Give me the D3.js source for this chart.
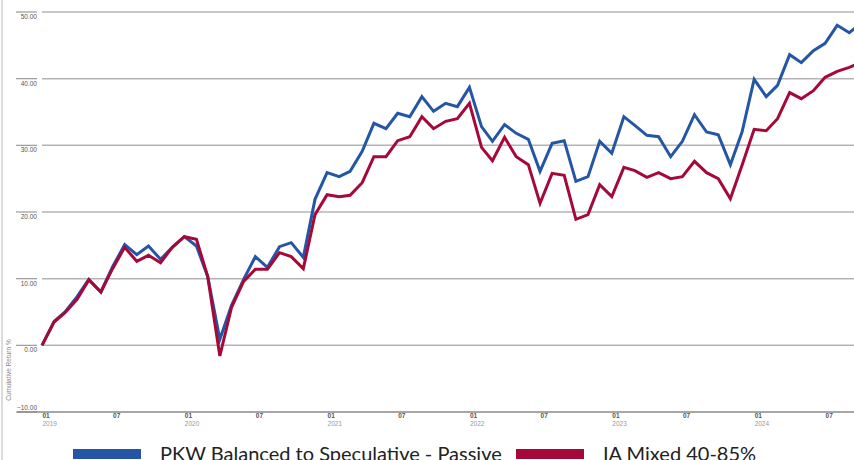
<!DOCTYPE html>
<html>
<head>
<meta charset="utf-8">
<script src="https://cdn.jsdelivr.net/npm/d3@7"></script>
<style>
  body { margin: 0; background: #fff; }
  svg { display: block; }
</style>
</head>
<body>
<div id="chart"></div>
<script>
const seriesNames = ["PKW Balanced to Speculative - Passive", "IA Mixed 40-85%"];
const seriesColors = ["#2456a5", "#a5093a"];

// monthly points, Jan 2019 onwards
const pkwValues = [
  0, 3.6, 5.0, 7.3, 9.9, 8.0, 11.8, 15.1, 13.6, 14.9, 12.9, 14.7,
  16.3, 14.9, 10.3, 0.9, 6.0, 9.9, 13.3, 11.7, 14.8, 15.4, 13.2, 21.9,
  25.9, 25.3, 26.1, 29.1, 33.3, 32.5, 34.8, 34.3, 37.3, 35.1, 36.3, 35.8,
  38.7, 32.8, 30.6, 33.1, 31.8, 30.9, 26.1, 30.3, 30.7, 24.6, 25.3, 30.6,
  28.8, 34.3, 33.0, 31.5, 31.3, 28.3, 30.6, 34.6, 32.0, 31.6, 27.1, 32.0,
  39.9, 37.3, 39.0, 43.6, 42.4, 44.2, 45.3, 48.0, 46.9, 48.3
];
const iaValues = [
  0, 3.5, 4.9, 6.9, 9.8, 8.0, 11.5, 14.7, 12.6, 13.5, 12.4, 14.7,
  16.3, 15.9, 10.3, -1.6, 5.7, 9.6, 11.4, 11.4, 13.9, 13.3, 11.5, 19.6,
  22.6, 22.3, 22.5, 24.4, 28.3, 28.3, 30.7, 31.3, 34.3, 32.5, 33.6, 34.0,
  36.3, 29.7, 27.7, 31.2, 28.3, 27.1, 21.3, 25.8, 25.5, 18.9, 19.6, 24.1,
  22.3, 26.7, 26.2, 25.2, 25.9, 25.0, 25.3, 27.6, 25.9, 25.0, 22.0, 27.0,
  32.4, 32.2, 34.0, 37.9, 37.0, 38.2, 40.2, 41.1, 41.7, 42.4
];
const yTicks = [-10, 0, 10, 20, 30, 40, 50];
const yTitle = "Cumulative Return %";

const width = 854, height = 460;

const months = d3.timeMonth.range(new Date(2019, 0, 1), new Date(2024, 10, 1));

const x = d3.scaleTime()
  .domain([months[0], months[months.length - 1]])
  .range([42, 861]);

const y = d3.scaleLinear()
  .domain([-10, 50])
  .range([412, 12]);

const svg = d3.select("#chart")
  .append("svg")
  .attr("width", width)
  .attr("height", height);

// left border
svg.append("line")
  .attr("x1", 2).attr("x2", 2)
  .attr("y1", 0).attr("y2", height)
  .attr("stroke", "#dcdcdc")
  .attr("stroke-width", 2);

// gridlines
svg.append("g")
  .selectAll("line")
  .data(yTicks.filter((d) => d > -10))
  .enter()
  .append("line")
  .attr("x1", 42).attr("x2", width)
  .attr("y1", (d) => y(d)).attr("y2", (d) => y(d))
  .attr("stroke", "#b4b4b4")
  .attr("stroke-width", 1.5);

// short marks left of the plot
svg.append("g")
  .selectAll("line")
  .data(yTicks)
  .enter()
  .append("line")
  .attr("x1", 16).attr("x2", 37)
  .attr("y1", (d) => y(d)).attr("y2", (d) => y(d))
  .attr("stroke", "#9a9a9a")
  .attr("stroke-width", 1.2);

svg.append("g")
  .selectAll("text")
  .data(yTicks)
  .enter()
  .append("text")
  .attr("x", 37)
  .attr("y", (d) => (d === -10 ? y(d) - 2 : y(d) + 7))
  .attr("text-anchor", "end")
  .style("font-family", "'Liberation Sans Narrow', 'Liberation Sans', sans-serif")
  .style("font-size", "6.5px")
  .style("fill", "#555")
  .text((d) => d3.format(".2f")(d).replace("-", "\u2212 "));

// y title
svg.append("text")
  .attr("transform", "translate(11, 370) rotate(-90)")
  .attr("text-anchor", "middle")
  .style("font-family", "'Liberation Sans Narrow', 'Liberation Sans', sans-serif")
  .style("font-size", "6.5px")
  .style("fill", "#888")
  .text(yTitle);

// x axis
const xAxis = d3.axisBottom(x)
  .ticks(d3.timeMonth.every(6))
  .tickSize(0)
  .tickFormat(d3.timeFormat("%m"));

const xAxisGroup = svg.append("g")
  .attr("transform", `translate(0, ${y(-10)})`)
  .call(xAxis);

xAxisGroup.select(".domain").remove();
xAxisGroup.selectAll(".tick text")
  .attr("y", 6)
  .attr("dy", 0)
  .attr("x", 0)
  .style("text-anchor", "start")
  .style("font-family", "'Liberation Sans Narrow', 'Liberation Sans', sans-serif")
  .style("font-size", "6.5px")
  .style("font-weight", "bold")
  .style("fill", "#555");

xAxisGroup.selectAll(".tick")
  .filter((d) => d.getMonth() === 0)
  .append("text")
  .attr("x", 0)
  .attr("y", 14)
  .style("text-anchor", "start")
  .style("font-family", "'Liberation Sans Narrow', 'Liberation Sans', sans-serif")
  .style("font-size", "6.5px")
  .style("fill", "#999")
  .text((d) => d.getFullYear());

svg.append("line")
  .attr("x1", 17).attr("x2", width)
  .attr("y1", y(-10)).attr("y2", y(-10))
  .attr("stroke", "#8a8a8a")
  .attr("stroke-width", 1.5);

// lines
const line = d3.line()
  .x((d, i) => x(months[i]))
  .y((d) => y(d));

[pkwValues, iaValues].forEach((vals, k) => {
  svg.append("path")
    .datum(vals)
    .attr("d", line)
    .attr("fill", "none")
    .attr("stroke", seriesColors[k])
    .attr("stroke-width", 3)
    .attr("stroke-linejoin", "miter");
});

// legend
const legendX = [73, 516];
const legend = svg.append("g");
seriesNames.forEach((name, k) => {
  legend.append("rect")
    .attr("x", legendX[k])
    .attr("y", 449)
    .attr("width", 68)
    .attr("height", 10)
    .attr("fill", seriesColors[k]);
  legend.append("text")
    .attr("x", legendX[k] + 87)
    .attr("y", 461)
    .style("font-family", "Lato, 'Noto Sans', sans-serif")
    .style("font-size", "20px")
    .style("fill", "#222")
    .text(name);
});
</script>
</body>
</html>
